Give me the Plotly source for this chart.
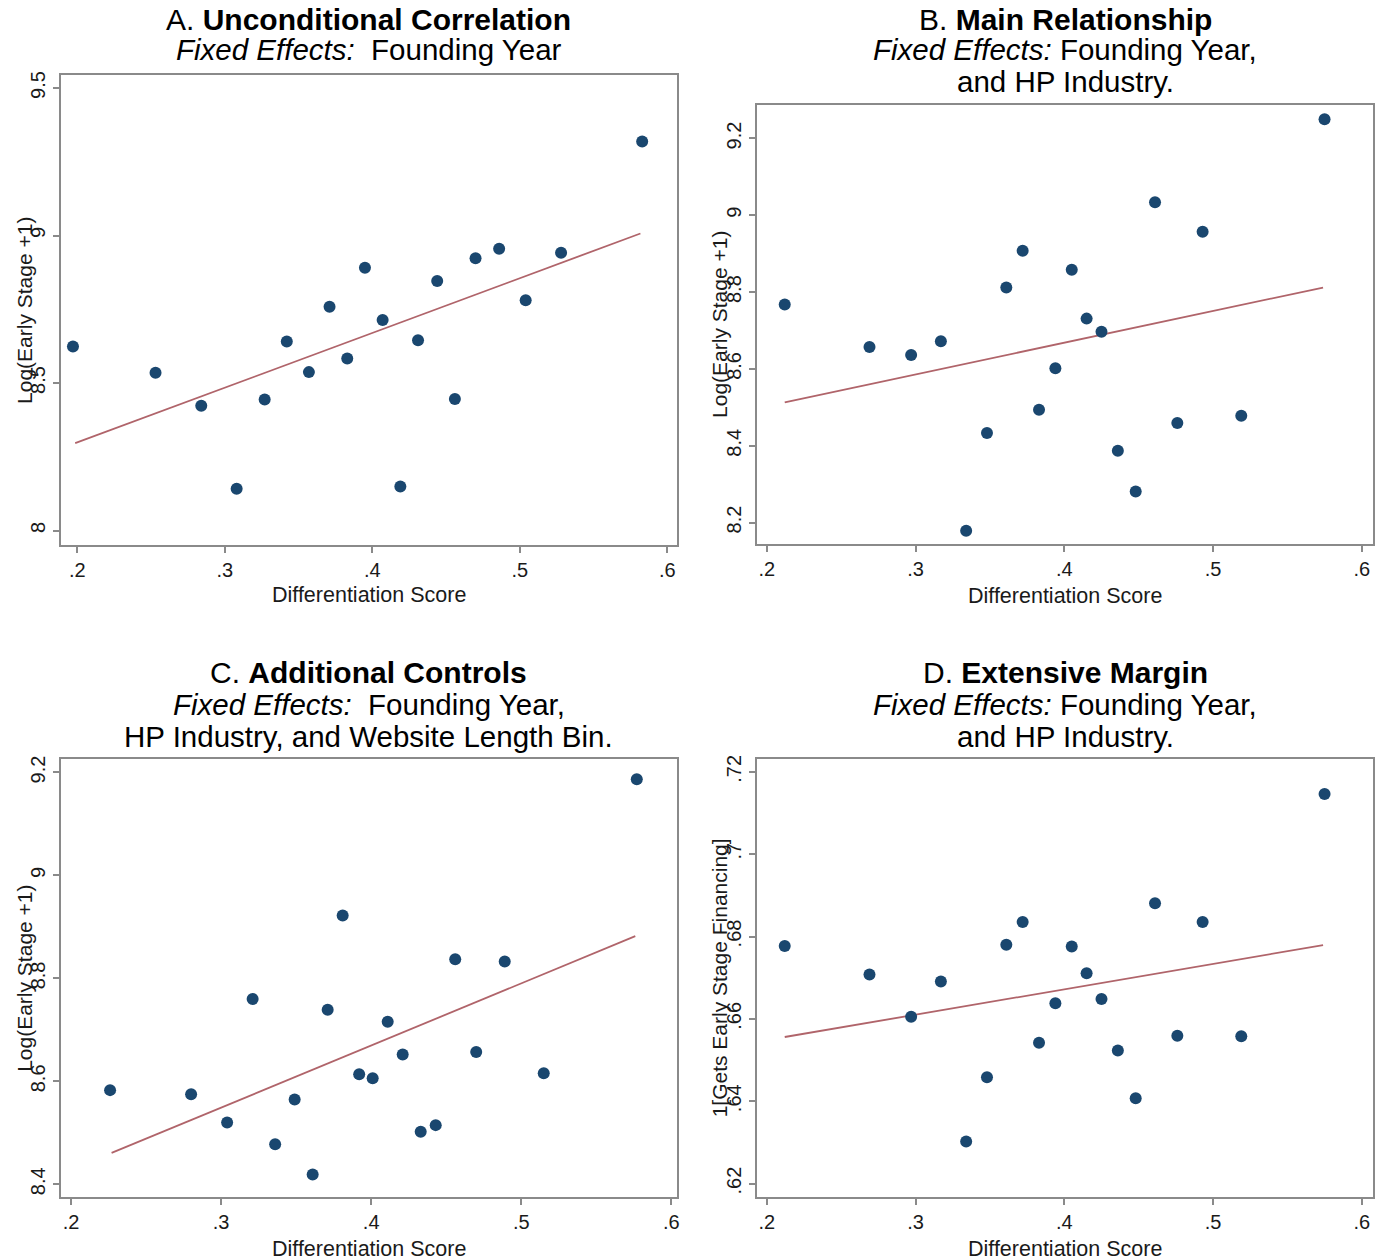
import plotly.graph_objects as go

# ---------------- data ----------------
a_x = [0.197, 0.253, 0.284, 0.308, 0.327, 0.342, 0.357, 0.371, 0.383, 0.395,
       0.407, 0.419, 0.431, 0.444, 0.456, 0.470, 0.486, 0.504, 0.528, 0.583]
a_y = [8.624, 8.535, 8.423, 8.142, 8.444, 8.641, 8.537, 8.759, 8.583, 8.891,
       8.714, 8.149, 8.645, 8.846, 8.446, 8.923, 8.955, 8.781, 8.942, 9.319]
a_fit_x = [0.1985, 0.5818]
a_fit_y = [8.296, 9.007]

b_x = [0.212, 0.269, 0.297, 0.317, 0.334, 0.348, 0.361, 0.372, 0.383, 0.394,
       0.405, 0.415, 0.425, 0.436, 0.448, 0.461, 0.476, 0.493, 0.519, 0.575]
b_y = [8.768, 8.657, 8.636, 8.672, 8.179, 8.433, 8.812, 8.908, 8.494, 8.602,
       8.858, 8.731, 8.697, 8.387, 8.281, 9.034, 8.459, 8.957, 8.478, 9.250]
b_fit_x = [0.212, 0.574]
b_fit_y = [8.513, 8.812]

c_x = [0.226, 0.280, 0.304, 0.321, 0.336, 0.349, 0.361, 0.371, 0.381, 0.392,
       0.401, 0.411, 0.421, 0.433, 0.443, 0.456, 0.470, 0.489, 0.515, 0.577]
c_y = [8.583, 8.575, 8.520, 8.760, 8.478, 8.565, 8.419, 8.739, 8.922, 8.614,
       8.606, 8.716, 8.652, 8.502, 8.515, 8.837, 8.657, 8.833, 8.616, 9.187]
c_fit_x = [0.227, 0.576]
c_fit_y = [8.461, 8.882]

d_x = [0.212, 0.269, 0.297, 0.317, 0.334, 0.348, 0.361, 0.372, 0.383, 0.394,
       0.405, 0.415, 0.425, 0.436, 0.448, 0.461, 0.476, 0.493, 0.519, 0.575]
d_y = [0.6777, 0.6708, 0.6605, 0.6691, 0.6302, 0.6458, 0.6780, 0.6835, 0.6542, 0.6638,
       0.6776, 0.6711, 0.6648, 0.6523, 0.6407, 0.6881, 0.6559, 0.6835, 0.6558, 0.7146]
d_fit_x = [0.212, 0.574]
d_fit_y = [0.6556, 0.6779]

x_tickvals = [0.2, 0.3, 0.4, 0.5, 0.6]
x_ticktext = [".2", ".3", ".4", ".5", ".6"]
a_ytickvals = [8, 8.5, 9, 9.5]
a_yticktext = ["8", "8.5", "9", "9.5"]
bc_ytickvals = [8.2, 8.4, 8.6, 8.8, 9, 9.2]
bc_yticktext = ["8.2", "8.4", "8.6", "8.8", "9", "9.2"]
d_ytickvals = [0.62, 0.64, 0.66, 0.68, 0.70, 0.72]
d_yticktext = [".62", ".64", ".66", ".68", ".7", ".72"]

x_title = "Differentiation Score"
y_title_log = "Log(Early Stage +1)"
y_title_ext = "1[Gets Early Stage Financing]"

titles = {
    "A": ["A. <b>Unconditional Correlation</b>",
          "<i>Fixed Effects:</i>\u00a0 Founding Year"],
    "B": ["B. <b>Main Relationship</b>",
          "<i>Fixed Effects:</i> Founding Year,",
          "and HP Industry."],
    "C": ["C. <b>Additional Controls</b>",
          "<i>Fixed Effects:</i>\u00a0 Founding Year,",
          "HP Industry, and Website Length Bin."],
    "D": ["D. <b>Extensive Margin</b>",
          "<i>Fixed Effects:</i> Founding Year,",
          "and HP Industry."],
}

# ---------------- layout geometry (pixels) ----------------
W, H = 1394, 1260
FONT = "Arial, 'Liberation Sans', sans-serif"
NAVY = "#1a476f"
FITC = "#b0646a"
FRAME = "#8a8a8a"

panels = [
    ("A", a_x, a_y, a_fit_x, a_fit_y, (61, 678, 71, 543), [0.1888, 0.6063], [7.950, 9.545],
     a_ytickvals, a_yticktext, y_title_log, [16, 45.5], 592.7, 24),
    ("B", b_x, b_y, b_fit_x, b_fit_y, (759, 1376, 101, 542), [0.1936, 0.6076], [8.1435, 9.288],
     bc_ytickvals, bc_yticktext, y_title_log, [16, 45.5, 77.5], 593.7, 721),
    ("C", c_x, c_y, c_fit_x, c_fit_y, (61, 678, 757, 1197), [0.1932, 0.6035], [8.375, 9.227],
     bc_ytickvals, bc_yticktext, y_title_log, [671, 702.5, 734.5], 1249, 25),
    ("D", d_x, d_y, d_fit_x, d_fit_y, (759, 1376, 757, 1197), [0.1936, 0.6076], [0.6167, 0.7232],
     d_ytickvals, d_yticktext, y_title_ext, [671, 702.5, 734.5], 1249, 721),
]

fig = go.Figure()
annotations = []
layout_axes = {}

for i, (key, xs, ys, fx, fy, fr, xr, yr, ytv, ytt, ytitle, tlines, xty, ytx) in enumerate(panels):
    n = "" if i == 0 else str(i + 1)
    xa, ya = "x" + n, "y" + n
    l, r, t, b = fr
    fig.add_trace(go.Scatter(x=fx, y=fy, mode="lines", xaxis=xa, yaxis=ya,
                             line=dict(color=FITC, width=1.8), showlegend=False,
                             hoverinfo="skip"))
    fig.add_trace(go.Scatter(x=xs, y=ys, mode="markers", xaxis=xa, yaxis=ya,
                             marker=dict(color=NAVY, size=12, line=dict(width=0)),
                             showlegend=False))
    common = dict(showline=True, mirror=True, linecolor=FRAME, linewidth=2,
                  ticks="outside", ticklen=6, tickwidth=1.5, tickcolor=FRAME,
                  showgrid=False, zeroline=False,
                  tickfont=dict(family=FONT, size=20, color="#1a1a1a"))
    layout_axes["xaxis" + n] = dict(domain=[l / W, r / W], range=xr, anchor=ya,
                                    tickvals=x_tickvals, ticktext=x_ticktext, **common)
    layout_axes["yaxis" + n] = dict(domain=[1 - b / H, 1 - t / H], range=yr, anchor=xa,
                                    tickvals=ytv, ticktext=ytt, tickangle=-90, **common)
    cx = (l + r) / 2 / W
    for j, (txt, yc) in enumerate(zip(titles[key], tlines)):
        annotations.append(dict(text=txt, x=cx, y=1 - yc / H, xref="paper", yref="paper",
                                xanchor="center", yanchor="middle", showarrow=False,
                                font=dict(family=FONT, size=30 if j == 0 else 29.5, color="#000000")))
    annotations.append(dict(text=x_title, x=cx, y=1 - xty / H, xref="paper", yref="paper",
                            xanchor="center", yanchor="middle", showarrow=False,
                            font=dict(family=FONT, size=21.5, color="#1a1a1a")))
    annotations.append(dict(text=ytitle, x=ytx / W, y=1 - (t + b) / 2 / H, xref="paper", yref="paper",
                            xanchor="center", yanchor="middle", showarrow=False, textangle=-90,
                            font=dict(family=FONT, size=21, color="#1a1a1a")))

fig.update_layout(width=W, height=H, margin=dict(l=0, r=0, t=0, b=0),
                  paper_bgcolor="white", plot_bgcolor="white",
                  annotations=annotations, **layout_axes)

fig.write_html("out.html")
